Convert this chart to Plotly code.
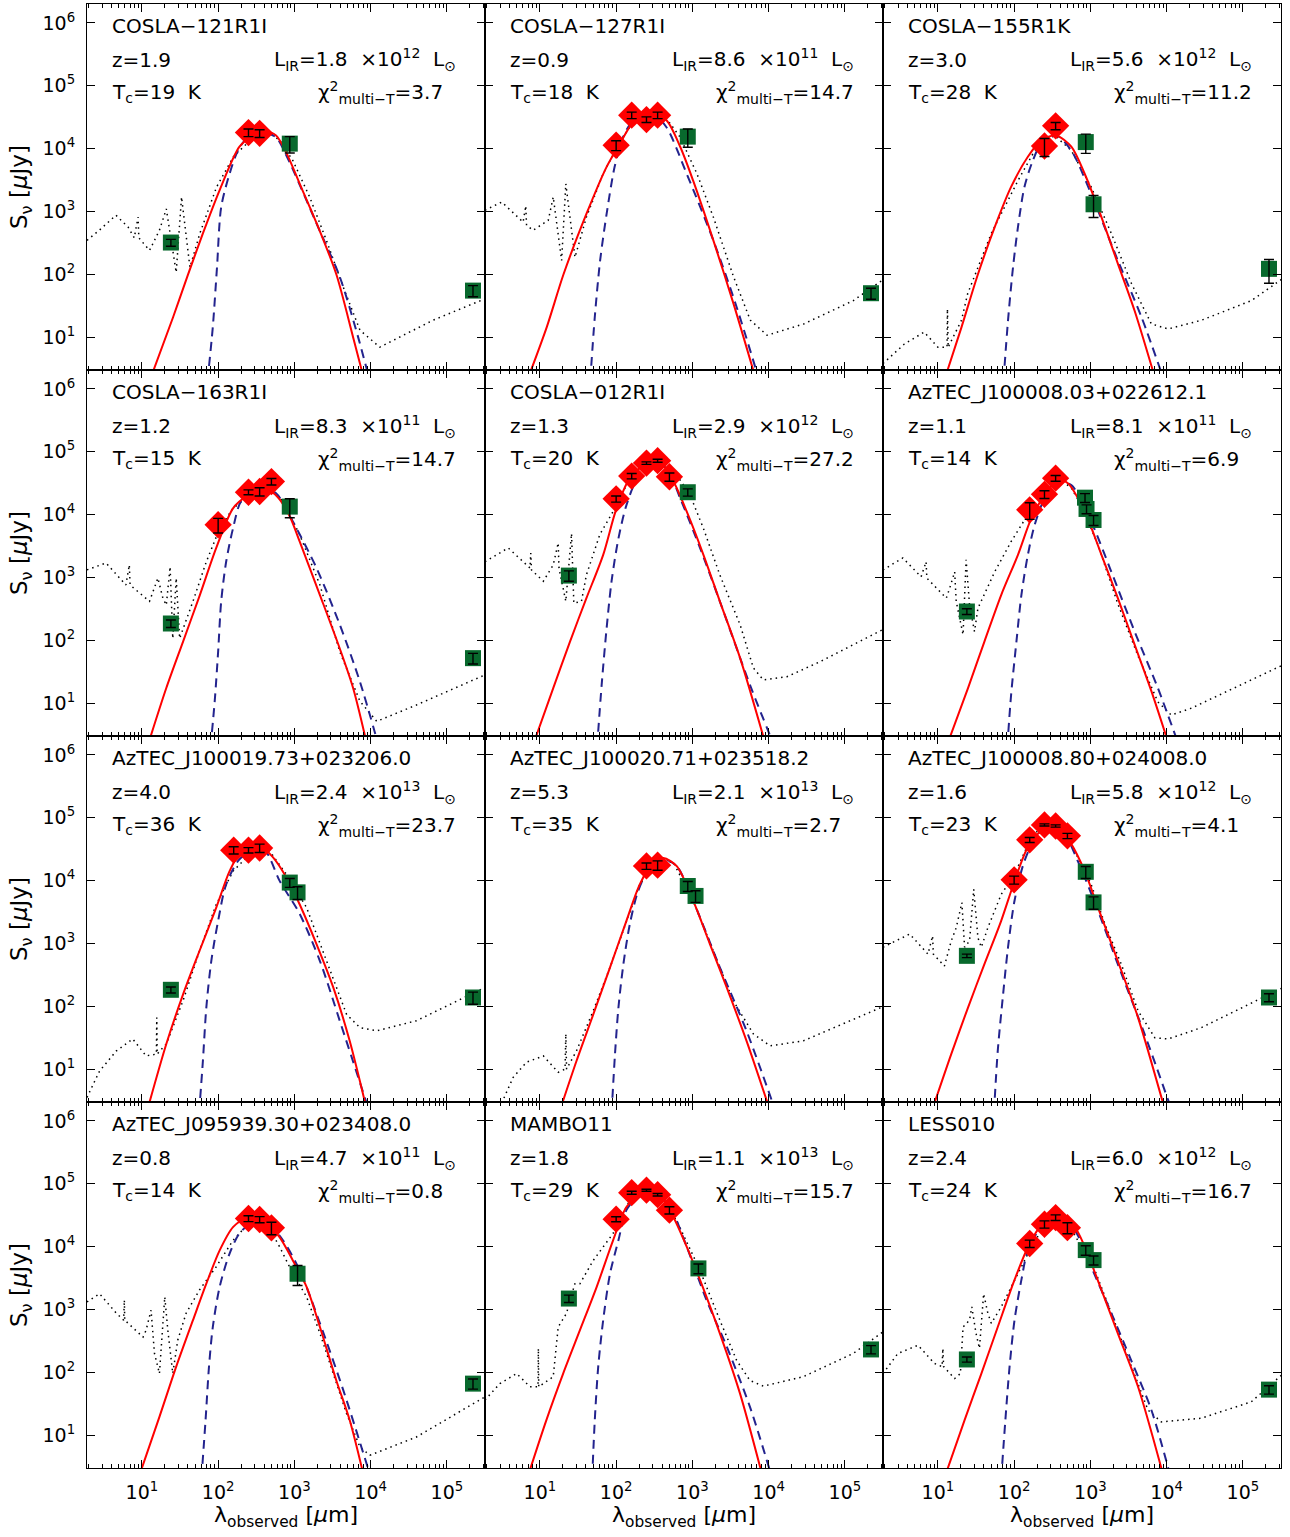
import numpy as np
import plotly.graph_objects as go
from plotly.subplots import make_subplots

# ---------------- source properties ----------------
NAMES = ["COSLA−121R1I", "COSLA−127R1I", "COSLA−155R1K",
         "COSLA−163R1I", "COSLA−012R1I", "AzTEC_J100008.03+022612.1",
         "AzTEC_J100019.73+023206.0", "AzTEC_J100020.71+023518.2", "AzTEC_J100008.80+024008.0",
         "AzTEC_J095939.30+023408.0", "MAMBO11", "LESS010"]
REDSHIFT = [1.9, 0.9, 3.0, 1.2, 1.3, 1.1, 4.0, 5.3, 1.6, 0.8, 1.8, 2.4]
T_COLD = [19, 18, 28, 15, 20, 14, 36, 35, 23, 14, 29, 24]
LIR_MANT = [1.8, 8.6, 5.6, 8.3, 2.9, 8.1, 2.4, 2.1, 5.8, 4.7, 1.1, 6.0]
LIR_EXP = [12, 11, 12, 11, 12, 11, 13, 13, 12, 11, 13, 12]
CHI2 = [3.7, 14.7, 11.2, 14.7, 27.2, 6.9, 23.7, 2.7, 4.1, 0.8, 15.7, 16.7]

# ---------------- photometry (um, uJy) ----------------
HER_LAM = [[250, 350], [100, 160, 250, 350], [250, 350],
           [100, 250, 350, 500], [100, 160, 250, 350, 500], [160, 250, 350],
           [160, 250, 350], [250, 350], [100, 160, 250, 350, 500],
           [250, 350, 500], [100, 160, 250, 350, 500], [160, 250, 350, 500]]
HER_FLUX = [[1.8e4, 1.75e4], [1.13e4, 3.4e4, 2.9e4, 3.4e4], [1.1e4, 2.3e4],
            [6.9e3, 2.27e4, 2.33e4, 3.36e4], [1.78e4, 4.1e4, 6.6e4, 7.2e4, 4.0e4], [1.19e4, 2.1e4, 3.8e4],
            [3.05e4, 3.05e4, 3.3e4], [1.71e4, 1.76e4], [1.03e4, 4.45e4, 7.7e4, 7.4e4, 5.15e4],
            [2.8e4, 2.7e4, 1.99e4], [2.73e4, 7.2e4, 7.9e4, 6.7e4, 3.8e4], [1.12e4, 2.27e4, 2.9e4, 2.0e4]]
HER_ERR = [[2.5e3, 2.5e3], [2e3, 4e3, 3e3, 4e3], [3.5e3, 3e3],
           [1.8e3, 2e3, 3.5e3, 4e3], [2e3, 4e3, 3e3, 4e3, 6e3], [3.5e3, 3e3, 4e3],
           [4e3, 3e3, 5e3], [2e3, 3e3], [1.5e3, 4e3, 3e3, 3e3, 5e3],
           [3e3, 3e3, 4.5e3], [2.5e3, 4e3, 3e3, 3e3, 5e3], [1.5e3, 3e3, 3e3, 4e3]]

OTH_LAM = [[24, 870, 2.2e5], [870, 2.2e5], [870, 1100, 2.2e5],
           [24, 870, 2.2e5], [24, 870], [24, 850, 890, 1100],
           [24, 870, 1100, 2.2e5], [870, 1100], [24, 870, 1100, 2.2e5],
           [1100, 2.2e5], [24, 1200, 2.2e5], [24, 870, 1100, 2.2e5]]
OTH_FLUX = [[320, 1.2e4, 55], [1.55e4, 50], [1.27e4, 1.3e3, 122],
            [185, 1.34e4, 52], [1.07e3, 2.27e4], [287, 1.86e4, 1.23e4, 8.2e3],
            [183, 9.3e3, 6.5e3, 138], [8.2e3, 5.7e3], [635, 1.38e4, 4.5e3, 138],
            [3.7e3, 66], [1.49e3, 4.5e3, 231], [160, 8.8e3, 6.1e3, 53]]
OTH_ERR = [[40, 3.5e3, 11], [5e3, 10], [4.3e3, 5e2, 50],
           [25, 4.5e3, 10], [200, 3e3], [30, 3e3, 2e3, 1.5e3],
           [20, 1.5e3, 1.5e3, 30], [1.5e3, 1.2e3], [40, 3e3, 1e3, 20],
           [1.3e3, 12], [200, 800, 35], [15, 1.5e3, 1e3, 8]]

# ---------------- model curves (log10 um, log10 uJy) ----------------
# multi-temperature fit (red, solid)
MT_LOGLAM = [
    [1.10, 1.41, 1.60, 1.80, 2.02, 2.28, 2.46, 2.61, 2.76, 2.90, 3.07, 3.33, 3.55, 3.77, 3.92],
    [0.83, 1.09, 1.31, 1.61, 1.875, 2.05, 2.225, 2.465, 2.66, 2.84, 3.01, 3.275, 3.54, 3.84],
    [1.08, 1.31, 1.525, 1.745, 1.96, 2.18, 2.355, 2.55, 2.75, 2.925, 3.145, 3.36, 3.58, 3.86],
    [1.07, 1.32, 1.54, 1.76, 1.975, 2.195, 2.37, 2.52, 2.65, 2.78, 2.94, 3.07, 3.335, 3.595, 3.77, 3.96],
    [0.90, 1.175, 1.395, 1.61, 1.83, 2.005, 2.18, 2.40, 2.55, 2.75, 2.925, 3.145, 3.36, 3.625, 3.97],
    [1.11, 1.395, 1.61, 1.83, 2.05, 2.225, 2.40, 2.575, 2.705, 2.925, 3.145, 3.36, 3.58, 3.80, 4.04],
    [1.06, 1.32, 1.54, 1.755, 1.975, 2.15, 2.28, 2.545, 2.72, 2.895, 3.07, 3.29, 3.51, 3.725, 3.96],
    [1.25, 1.48, 1.70, 1.92, 2.135, 2.31, 2.485, 2.62, 2.795, 3.01, 3.23, 3.45, 3.71, 4.03],
    [0.91, 1.175, 1.395, 1.61, 1.83, 2.005, 2.18, 2.40, 2.575, 2.75, 2.925, 3.10, 3.36, 3.625, 3.99],
    [0.95, 1.23, 1.45, 1.67, 1.845, 2.02, 2.195, 2.39, 2.59, 2.805, 2.98, 3.16, 3.335, 3.55, 3.725, 3.92],
    [0.83, 1.085, 1.305, 1.525, 1.745, 1.96, 2.135, 2.355, 2.575, 2.75, 2.925, 3.10, 3.36, 3.625, 3.93],
    [1.08, 1.35, 1.57, 1.785, 2.005, 2.18, 2.355, 2.575, 2.795, 2.925, 3.145, 3.36, 3.625, 3.97],
]
MT_LOGFLUX = [
    [0.30, 1.32, 1.98, 2.65, 3.34, 4.03, 4.21, 4.28, 4.21, 3.92, 3.44, 2.70, 2.00, 1.00, 0.30],
    [0.30, 1.16, 2.00, 2.96, 3.71, 4.08, 4.42, 4.57, 4.45, 4.03, 3.49, 2.54, 1.53, 0.30],
    [0.30, 1.16, 2.00, 2.75, 3.39, 3.87, 4.13, 4.21, 4.03, 3.60, 2.91, 2.17, 1.42, 0.30],
    [0.30, 1.24, 1.98, 2.72, 3.47, 4.10, 4.29, 4.37, 4.39, 4.28, 3.97, 3.57, 2.72, 1.87, 1.24, 0.30],
    [0.30, 1.24, 1.98, 2.67, 3.36, 4.10, 4.58, 4.82, 4.87, 4.53, 4.05, 3.36, 2.62, 1.72, 0.30],
    [0.30, 1.24, 1.98, 2.72, 3.36, 3.94, 4.31, 4.55, 4.50, 4.05, 3.36, 2.67, 1.93, 1.19, 0.30],
    [0.30, 1.40, 2.19, 2.88, 3.57, 4.15, 4.42, 4.55, 4.37, 4.05, 3.62, 2.99, 2.30, 1.45, 0.30],
    [0.30, 1.13, 1.87, 2.62, 3.36, 3.94, 4.29, 4.36, 4.23, 3.68, 2.99, 2.30, 1.45, 0.30],
    [0.30, 1.24, 1.98, 2.67, 3.36, 3.99, 4.53, 4.84, 4.84, 4.58, 4.15, 3.57, 2.72, 1.82, 0.30],
    [0.30, 1.29, 2.09, 2.83, 3.41, 3.94, 4.31, 4.47, 4.42, 4.15, 3.78, 3.36, 2.72, 1.87, 1.24, 0.30],
    [0.30, 1.24, 1.98, 2.67, 3.36, 4.10, 4.63, 4.87, 4.82, 4.47, 4.00, 3.47, 2.62, 1.66, 0.30],
    [0.30, 1.24, 1.98, 2.72, 3.47, 3.99, 4.34, 4.50, 4.31, 4.00, 3.31, 2.62, 1.77, 0.30],
]

# single-temperature greybody (blue, dashed)
BB_LOGLAM = [
    [1.86, 1.93, 1.985, 2.04, 2.15, 2.26, 2.39, 2.59, 2.76, 2.895, 3.33, 3.595, 3.836, 3.99],
    [1.66, 1.72, 1.79, 1.875, 1.98, 2.09, 2.225, 2.465, 2.66, 2.925, 3.275, 3.58, 3.88],
    [1.86, 1.92, 1.985, 2.05, 2.135, 2.245, 2.355, 2.55, 2.75, 3.01, 3.36, 3.67, 3.97],
    [1.90, 1.955, 2.00, 2.04, 2.105, 2.195, 2.30, 2.455, 2.63, 2.76, 2.98, 3.29, 3.595, 3.86, 4.11],
    [1.75, 1.81, 1.875, 1.94, 2.03, 2.135, 2.27, 2.49, 2.66, 2.84, 3.10, 3.36, 3.755, 4.08],
    [1.91, 1.96, 2.03, 2.095, 2.18, 2.27, 2.40, 2.575, 2.75, 3.01, 3.275, 3.58, 3.885, 4.17],
    [1.75, 1.80, 1.845, 1.91, 2.00, 2.105, 2.28, 2.50, 2.63, 2.805, 3.07, 3.335, 3.595, 3.99],
    [1.94, 1.985, 2.03, 2.095, 2.18, 2.29, 2.445, 2.62, 2.795, 3.01, 3.36, 3.71, 4.10],
    [1.735, 1.785, 1.855, 1.92, 2.005, 2.135, 2.31, 2.485, 2.66, 2.835, 3.10, 3.36, 3.71, 4.08],
    [1.78, 1.835, 1.88, 1.93, 2.02, 2.15, 2.28, 2.455, 2.63, 2.85, 3.07, 3.335, 3.64, 4.01],
    [1.685, 1.72, 1.765, 1.83, 1.92, 2.03, 2.135, 2.31, 2.485, 2.705, 2.925, 3.185, 3.45, 3.755, 4.05],
    [1.83, 1.885, 1.94, 2.005, 2.095, 2.18, 2.355, 2.575, 2.795, 3.01, 3.275, 3.535, 3.80, 4.06],
]
BB_LOGFLUX = [
    [0.30, 1.16, 2.11, 3.07, 3.60, 3.97, 4.18, 4.26, 4.18, 3.89, 2.70, 1.96, 1.00, 0.30],
    [0.30, 1.32, 2.22, 2.96, 3.71, 4.18, 4.45, 4.57, 4.34, 3.60, 2.54, 1.48, 0.30],
    [0.30, 1.27, 2.11, 2.75, 3.39, 3.81, 4.08, 4.21, 3.97, 3.28, 2.22, 1.32, 0.30],
    [0.30, 1.03, 1.82, 2.62, 3.25, 3.78, 4.21, 4.34, 4.39, 4.34, 3.89, 3.15, 2.25, 1.34, 0.30],
    [0.30, 1.29, 2.19, 2.94, 3.62, 4.15, 4.55, 4.79, 4.74, 4.26, 3.47, 2.62, 1.29, 0.30],
    [0.30, 1.13, 1.98, 2.72, 3.36, 3.84, 4.26, 4.52, 4.47, 3.89, 3.09, 2.14, 1.24, 0.30],
    [0.30, 1.13, 1.98, 2.72, 3.36, 3.94, 4.34, 4.50, 4.45, 4.00, 3.47, 2.72, 1.77, 0.30],
    [0.30, 1.24, 1.98, 2.67, 3.31, 3.84, 4.21, 4.34, 4.23, 3.68, 2.62, 1.61, 0.30],
    [0.30, 1.29, 2.19, 2.94, 3.68, 4.31, 4.74, 4.87, 4.74, 4.31, 3.52, 2.67, 1.56, 0.30],
    [0.30, 1.24, 2.09, 2.72, 3.36, 3.89, 4.21, 4.39, 4.39, 4.10, 3.62, 2.78, 1.72, 0.30],
    [0.30, 1.24, 2.09, 2.83, 3.57, 4.10, 4.58, 4.82, 4.87, 4.63, 4.00, 3.15, 2.41, 1.45, 0.30],
    [0.30, 1.24, 2.09, 2.83, 3.47, 3.94, 4.31, 4.48, 4.26, 3.68, 2.94, 2.19, 1.40, 0.30],
]

# best-matching template SED (black, dotted)
TPL_LOGLAM = [
    [0.28, 0.44, 0.66, 0.82, 0.90, 0.95, 0.96, 1.10, 1.23, 1.32, 1.45, 1.52, 1.63, 1.76, 1.98, 2.20, 2.46, 2.63, 2.81, 2.98, 3.20, 3.42, 3.64, 3.86, 4.12, 4.82, 5.50],
    [0.28, 0.50, 0.78, 0.815, 0.825, 0.91, 1.11, 1.175, 1.285, 1.34, 1.46, 1.61, 1.83, 2.05, 2.27, 2.49, 2.66, 2.84, 3.06, 3.275, 3.54, 3.76, 3.98, 4.46, 5.11, 5.52],
    [0.28, 0.56, 0.82, 1.00, 1.12, 1.125, 1.135, 1.31, 1.39, 1.525, 1.70, 2.05, 2.27, 2.53, 2.75, 3.01, 3.275, 3.54, 3.80, 4.02, 4.46, 5.11, 5.52],
    [0.28, 0.53, 0.79, 0.835, 0.845, 1.10, 1.21, 1.275, 1.32, 1.37, 1.405, 1.45, 1.495, 1.67, 1.845, 2.02, 2.195, 2.455, 2.675, 2.85, 3.07, 3.335, 3.595, 3.86, 4.08, 4.60, 5.50],
    [0.28, 0.585, 0.87, 0.88, 0.89, 1.045, 1.175, 1.24, 1.25, 1.34, 1.415, 1.445, 1.545, 1.61, 1.785, 1.96, 2.135, 2.355, 2.575, 2.795, 2.97, 3.145, 3.36, 3.625, 3.80, 3.93, 4.24, 4.675, 5.53],
    [0.28, 0.54, 0.78, 0.845, 0.855, 1.11, 1.155, 1.22, 1.24, 1.33, 1.37, 1.415, 1.48, 1.525, 1.745, 1.96, 2.18, 2.40, 2.62, 2.75, 2.88, 3.10, 3.36, 3.625, 3.885, 4.06, 4.325, 4.89, 5.53],
    [0.28, 0.445, 0.665, 0.88, 1.055, 1.19, 1.195, 1.20, 1.32, 1.54, 1.755, 1.975, 2.195, 2.455, 2.675, 2.895, 3.16, 3.42, 3.685, 3.86, 4.08, 4.60, 5.50],
    [0.44, 0.65, 0.825, 1.045, 1.24, 1.33, 1.34, 1.35, 1.48, 1.70, 1.92, 2.095, 2.31, 2.53, 2.75, 3.01, 3.275, 3.535, 3.80, 4.02, 4.455, 5.53],
    [0.28, 0.63, 0.87, 0.93, 0.94, 1.085, 1.175, 1.24, 1.315, 1.35, 1.415, 1.47, 1.525, 1.57, 1.655, 1.83, 2.005, 2.225, 2.40, 2.62, 2.835, 3.01, 3.19, 3.405, 3.625, 3.845, 4.02, 4.455, 5.53],
    [0.28, 0.445, 0.665, 0.76, 0.77, 0.775, 1.015, 1.055, 1.12, 1.165, 1.23, 1.30, 1.34, 1.405, 1.47, 1.58, 1.755, 1.975, 2.195, 2.415, 2.63, 2.805, 2.98, 3.16, 3.335, 3.51, 3.685, 3.86, 3.99, 4.60, 5.50],
    [0.28, 0.475, 0.695, 0.87, 0.975, 0.98, 0.985, 1.175, 1.24, 1.35, 1.395, 1.46, 1.525, 1.70, 1.96, 2.18, 2.40, 2.62, 2.835, 3.10, 3.36, 3.58, 3.755, 3.93, 4.455, 5.11, 5.53],
    [0.28, 0.475, 0.74, 0.955, 1.055, 1.065, 1.075, 1.22, 1.295, 1.33, 1.415, 1.445, 1.50, 1.545, 1.60, 1.655, 1.70, 1.83, 2.05, 2.27, 2.485, 2.66, 2.835, 3.01, 3.275, 3.535, 3.755, 3.93, 4.455, 5.11, 5.53],
]
TPL_LOGFLUX = [
    [2.54, 2.70, 2.94, 2.75, 2.58, 2.91, 2.58, 2.38, 2.70, 3.04, 2.03, 3.23, 2.11, 2.65, 3.39, 3.87, 4.18, 4.28, 4.13, 3.81, 3.23, 2.54, 1.80, 1.11, 0.84, 1.27, 1.61],
    [3.02, 3.15, 2.83, 3.09, 2.78, 2.70, 2.86, 3.23, 2.22, 3.44, 2.27, 2.91, 3.60, 4.11, 4.50, 4.56, 4.48, 4.18, 3.60, 2.91, 1.96, 1.27, 1.03, 1.21, 1.58, 1.93],
    [0.58, 0.89, 1.08, 0.84, 0.84, 1.45, 0.84, 1.27, 1.69, 2.11, 2.65, 3.49, 3.97, 4.21, 3.97, 3.39, 2.65, 1.85, 1.21, 1.13, 1.27, 1.58, 1.93],
    [3.12, 3.23, 2.88, 3.20, 2.88, 2.62, 2.99, 2.67, 2.56, 3.17, 2.03, 2.99, 2.03, 2.62, 3.25, 3.78, 4.10, 4.34, 4.42, 4.21, 3.68, 2.88, 1.82, 1.03, 0.71, 0.97, 1.45],
    [3.25, 3.47, 3.15, 3.39, 3.12, 2.94, 3.20, 3.55, 3.15, 2.62, 3.70, 2.59, 2.62, 3.04, 3.68, 4.05, 4.47, 4.74, 4.82, 4.63, 4.31, 3.78, 3.04, 2.25, 1.56, 1.37, 1.42, 1.66, 2.19],
    [3.12, 3.31, 3.01, 3.25, 2.99, 2.67, 2.83, 3.09, 2.62, 2.09, 3.28, 2.56, 2.14, 2.51, 3.09, 3.57, 4.00, 4.34, 4.55, 4.42, 4.15, 3.52, 2.58, 1.75, 1.02, 0.81, 0.92, 1.24, 1.61],
    [0.55, 0.97, 1.29, 1.48, 1.21, 1.24, 1.82, 1.24, 1.40, 2.09, 2.88, 3.62, 4.15, 4.47, 4.47, 4.10, 3.57, 2.72, 1.87, 1.66, 1.61, 1.77, 2.30],
    [0.30, 0.87, 1.11, 1.21, 0.95, 1.00, 1.56, 1.00, 1.29, 1.93, 2.62, 3.20, 3.94, 4.31, 4.29, 3.68, 2.88, 2.09, 1.56, 1.37, 1.45, 2.01],
    [2.94, 3.15, 2.83, 3.12, 2.83, 2.64, 3.04, 3.25, 3.65, 2.94, 3.04, 3.86, 3.09, 2.94, 3.25, 3.78, 4.10, 4.69, 4.90, 4.84, 4.37, 3.94, 3.31, 2.67, 1.93, 1.50, 1.48, 1.66, 2.30],
    [3.12, 3.25, 2.94, 2.83, 3.15, 2.83, 2.56, 2.67, 2.99, 2.30, 1.98, 3.20, 2.67, 1.98, 2.51, 2.94, 3.31, 3.68, 4.10, 4.39, 4.37, 4.00, 3.57, 3.20, 2.62, 1.98, 1.34, 0.81, 0.68, 0.97, 1.61],
    [1.56, 1.82, 1.98, 1.77, 1.77, 2.38, 1.77, 1.93, 2.72, 2.94, 3.15, 3.41, 3.41, 3.78, 4.21, 4.74, 4.90, 4.79, 4.31, 3.62, 2.83, 2.19, 1.87, 1.78, 1.93, 2.30, 2.67],
    [1.98, 2.30, 2.43, 2.14, 2.09, 2.38, 2.09, 1.90, 1.98, 2.72, 2.83, 3.04, 2.62, 2.38, 3.25, 2.94, 2.78, 3.04, 3.57, 4.10, 4.42, 4.47, 4.10, 3.78, 2.94, 2.09, 1.40, 1.21, 1.27, 1.53, 1.98],
]

# ---------------- styling ----------------
FONT = "DejaVu Sans"
RED = "#ff0000"
BLUE = "#23238e"
GREEN = "#08692d"
NB = "\u00a0"

X_RANGE = [0.28, 5.50]
Y_RANGE = [0.477, 6.301]

fig = make_subplots(rows=4, cols=3, horizontal_spacing=0, vertical_spacing=0)

for i in range(12):
    r, c = i // 3 + 1, i % 3 + 1

    fig.add_trace(go.Scatter(
        x=np.power(10.0, TPL_LOGLAM[i]), y=np.power(10.0, TPL_LOGFLUX[i]),
        mode="lines", line=dict(color="black", width=1.5, dash="1.5px,4px"),
        hoverinfo="skip", showlegend=False), row=r, col=c)

    fig.add_trace(go.Scatter(
        x=np.power(10.0, BB_LOGLAM[i]), y=np.power(10.0, BB_LOGFLUX[i]),
        mode="lines", line=dict(color=BLUE, width=2, dash="9px,6px", shape="spline", smoothing=0.8),
        hoverinfo="skip", showlegend=False), row=r, col=c)

    fig.add_trace(go.Scatter(
        x=np.power(10.0, MT_LOGLAM[i]), y=np.power(10.0, MT_LOGFLUX[i]),
        mode="lines", line=dict(color=RED, width=2, shape="spline", smoothing=0.8),
        hoverinfo="skip", showlegend=False), row=r, col=c)

    fig.add_trace(go.Scatter(
        x=HER_LAM[i], y=HER_FLUX[i], mode="markers",
        marker=dict(symbol="diamond", size=21, color=RED, line=dict(width=0)),
        showlegend=False), row=r, col=c)

    fig.add_trace(go.Scatter(
        x=OTH_LAM[i], y=OTH_FLUX[i], mode="markers",
        marker=dict(symbol="square", size=16, color=GREEN, line=dict(width=0)),
        showlegend=False), row=r, col=c)

    # error bars drawn above the symbols
    fig.add_trace(go.Scatter(
        x=HER_LAM[i] + OTH_LAM[i], y=HER_FLUX[i] + OTH_FLUX[i], mode="markers",
        marker=dict(size=1, color="rgba(0,0,0,0)"),
        error_y=dict(type="data", array=HER_ERR[i] + OTH_ERR[i], color="black",
                     thickness=1.4, width=5),
        showlegend=False, hoverinfo="skip"), row=r, col=c)

    # panel text
    suffix = "" if i == 0 else str(i + 1)
    xref = f"x{suffix} domain"
    yref = f"y{suffix} domain"
    tfont = dict(family=FONT, size=20, color="black")
    texts = [
        (0.058, 1 - 22 / 366, NAMES[i]),
        (0.058, 1 - 56 / 366, f"z={REDSHIFT[i]:.1f}"),
        (0.058, 1 - 89 / 366, f"T<sub>c</sub>={T_COLD[i]}{NB}{NB}K"),
        (0.465, 1 - 56 / 366,
         f"L<sub>IR</sub>={LIR_MANT[i]:.1f}{NB}{NB}×10<sup>{LIR_EXP[i]}</sup>{NB}{NB}L<sub>⊙</sub>"),
        (0.575, 1 - 89 / 366, f"χ<sup>2</sup><sub>multi−T</sub>={CHI2[i]:.1f}"),
    ]
    for tx, ty, tt in texts:
        fig.add_annotation(x=tx, y=ty, xref=xref, yref=yref, text=tt, showarrow=False,
                           xanchor="left", yanchor="middle", font=tfont)

# axes
minor_x = [m * 10.0 ** k for k in range(0, 6) for m in range(2, 10)]
for i in range(12):
    r, c = i // 3 + 1, i % 3 + 1
    fig.update_xaxes(
        type="log", range=X_RANGE, showgrid=False, zeroline=False,
        showline=True, linecolor="black", linewidth=1.2, mirror="allticks",
        ticks="inside", ticklen=8, tickwidth=1.1, tickcolor="black",
        tickvals=[10, 100, 1e3, 1e4, 1e5],
        ticktext=[f"10<sup>{k}</sup>" for k in range(1, 6)],
        showticklabels=(r == 4), ticklabelstandoff=7,
        tickfont=dict(family=FONT, size=19, color="black"),
        minor=dict(tickvals=minor_x, ticks="inside", ticklen=4, tickwidth=1,
                   tickcolor="black", showgrid=False),
        row=r, col=c)
    fig.update_yaxes(
        type="log", range=Y_RANGE, showgrid=False, zeroline=False,
        showline=True, linecolor="black", linewidth=1.2, mirror="allticks",
        ticks="inside", ticklen=8, tickwidth=1.1, tickcolor="black",
        tickvals=[10 ** k for k in range(1, 7)],
        ticktext=[f"10<sup>{k}</sup>" for k in range(1, 7)],
        showticklabels=(c == 1), ticklabelstandoff=7,
        tickfont=dict(family=FONT, size=19, color="black"),
        row=r, col=c)

# axis titles
for r in range(4):
    yc = 1 - (183 + 366 * r) / 1464
    fig.add_annotation(x=(21 - 87) / 1194, y=yc, xref="paper", yref="paper",
                       text="S<sub>ν</sub> [<i>μ</i>Jy]", textangle=-90, showarrow=False,
                       xanchor="center", yanchor="middle",
                       font=dict(family=FONT, size=23, color="black"))
for c in range(3):
    fig.add_annotation(x=(c + 0.5) / 3, y=(1468 - 1516) / 1464, xref="paper", yref="paper",
                       text="λ<sub>observed</sub> [<i>μ</i>m]", showarrow=False,
                       xanchor="center", yanchor="middle",
                       font=dict(family=FONT, size=22, color="black"))

fig.update_layout(
    width=1290, height=1537,
    margin=dict(l=87, r=9, t=4, b=69),
    plot_bgcolor="white", paper_bgcolor="white",
    showlegend=False,
)

fig.write_html("out.html")
